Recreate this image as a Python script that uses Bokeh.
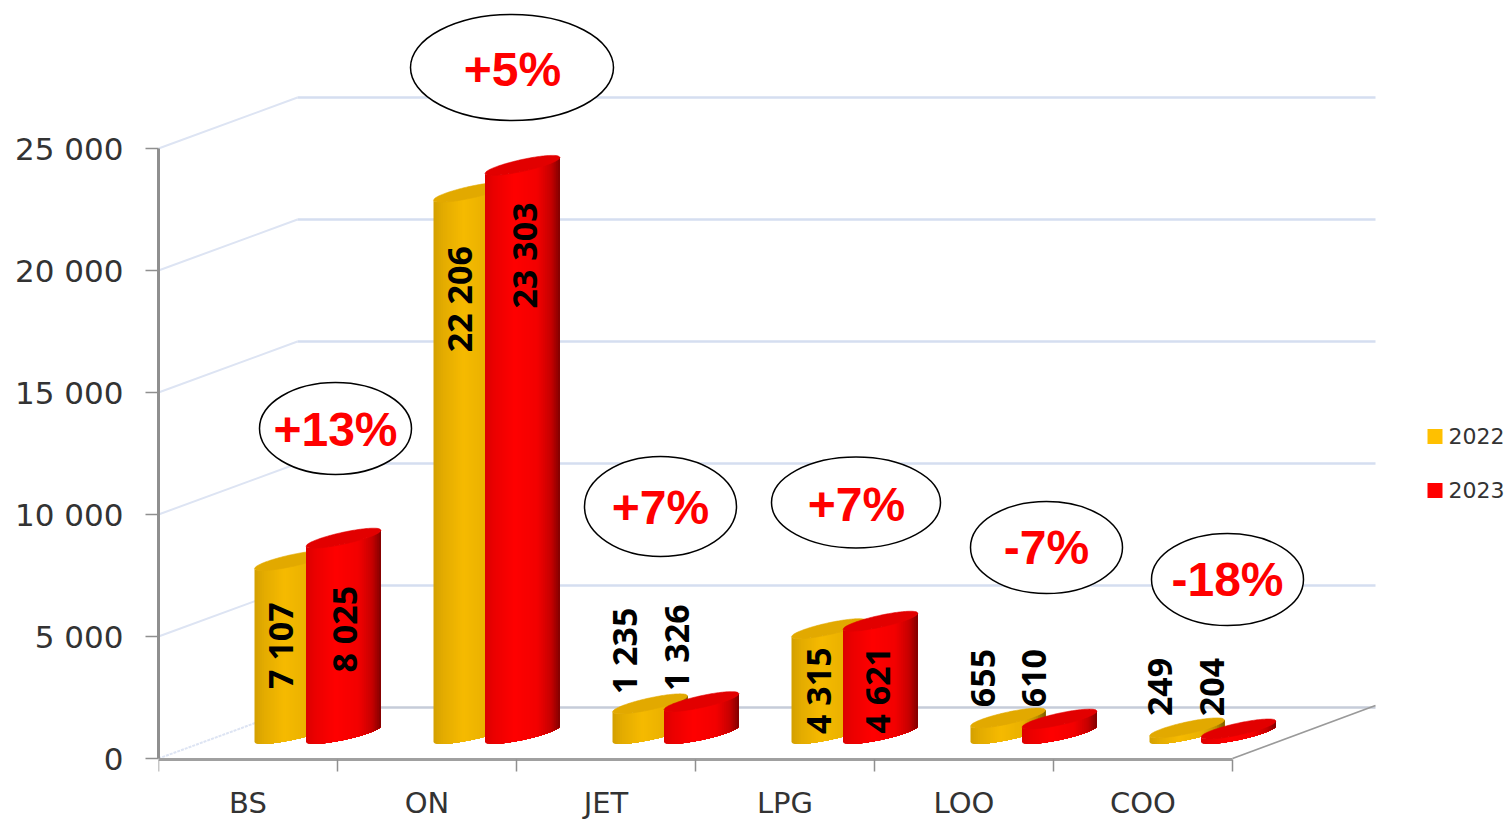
import numpy as np
from bokeh.plotting import figure
from bokeh.models import Range1d, LinearAxis, FixedTicker
from bokeh.core.properties import value
from bokeh.embed import file_html
from bokeh.resources import INLINE

# ---- data
categories = ["BS", "ON", "JET", "LPG", "LOO", "COO"]
series_2022 = [7107, 22206, 1235, 4315, 655, 249]
series_2023 = [8025, 23303, 1326, 4621, 610, 204]
labels_2022 = ["7 107", "22 206", "1 235", "4 315", "655", "249"]
labels_2023 = ["8 025", "23 303", "1 326", "4 621", "610", "204"]
changes = ["+13%", "+5%", "+7%", "+7%", "-7%", "-18%"]
y_ticks = [0, 5000, 10000, 15000, 20000, 25000]
y_tick_labels = ["0", "5 000", "10 000", "15 000", "20 000", "25 000"]
legend_names = ["2022", "2023"]

# ---- layout (pixels of the reference image)
PX_CAT = 179.0      # px per category
PX_VAL = 0.0244     # px per unit
X0, Y0 = 158, 758   # axis origin
dx = lambda px: px / PX_CAT
dy = lambda px: px / PX_VAL
ax = lambda px: (px - X0) / PX_CAT
ay = lambda px: (Y0 - px) / PX_VAL

W, H = 1508, 821
p = figure(width=W, height=H, output_backend="svg", toolbar_location=None,
           x_range=Range1d(ax(158), ax(W)), y_range=Range1d(ay(H), ay(0)),
           x_axis_location=None, y_axis_location=None,
           min_border_left=158, min_border_right=0, min_border_top=0, min_border_bottom=0,
           background_fill_color="white", border_fill_color="white", outline_line_color=None)
p.grid.visible = False

# ---- axes
yaxis = LinearAxis(ticker=FixedTicker(ticks=y_ticks), bounds=(0, 25000),
                   major_label_overrides={t: l for t, l in zip(y_ticks, y_tick_labels)},
                   axis_line_color="#8f8f8f", axis_line_width=3,
                   major_tick_line_color="#8f8f8f", major_tick_line_width=1.5,
                   major_tick_out=13, major_tick_in=0, minor_tick_out=0, minor_tick_in=0,
                   major_label_standoff=22, major_label_text_font="DejaVu Sans",
                   major_label_text_font_size="31px", major_label_text_color="#333333")
p.add_layout(yaxis, "left")
cat_centres = [i + 0.5 for i in range(len(categories))]
xaxis = LinearAxis(ticker=FixedTicker(ticks=cat_centres, minor_ticks=list(range(len(categories) + 1))),
                   bounds=(0, len(categories)), fixed_location=ay(759),
                   major_label_overrides={c: l for c, l in zip(cat_centres, categories)},
                   axis_line_color="#a0a0a0", axis_line_width=3,
                   major_tick_out=0, major_tick_in=0,
                   minor_tick_line_color="#8f8f8f", minor_tick_line_width=1.5,
                   minor_tick_out=12, minor_tick_in=0,
                   major_label_standoff=14, major_label_text_font="DejaVu Sans",
                   major_label_text_font_size="29px", major_label_text_color="#333333")
p.add_layout(xaxis, "below")

# ---- walls and floor
DEPTH_X, DEPTH_Y = 139, 51
RIGHT = 1375 - 158
for t in y_ticks[1:]:
    p.line([0, dx(DEPTH_X)], [t, t + dy(DEPTH_Y)], line_color="#dde4f3", line_width=2)
    p.line([dx(DEPTH_X), dx(RIGHT)], [t + dy(DEPTH_Y)] * 2, line_color="#d5def0", line_width=2.5)
p.line([0, dx(DEPTH_X)], [0, dy(DEPTH_Y)], line_color="#dde4f3", line_width=2, line_dash="3 1")
p.line([dx(DEPTH_X), dx(RIGHT)], [dy(DEPTH_Y)] * 2, line_color="#c6ccd9", line_width=2.5)
p.line([len(categories), dx(RIGHT)], [0, dy(DEPTH_Y) + dy(2)], line_color="#9a9a9a", line_width=1.8)

# ---- cylinders
BAR_W, SHEAR, BULGE = 75, 8, 6
BASE = 24.5
STOPS_T = [0, 0.12, 0.4, 0.7, 0.88, 1]
STOPS_B = [0.86, 0.92, 1, 0.95, 0.78, 0.5]
N = 40


def edge(u, centre_px, sign):
    """Screen-px height above the axis of an ellipse edge at u in [-1, 1]."""
    return centre_px + SHEAR * u + sign * BULGE * np.sqrt(np.clip(1 - u * u, 0, 1))


def cylinder(left_px, val, rgb, top_hex):
    us = np.linspace(-1, 1, N + 1)
    top_c = val * PX_VAL + BASE
    xpx = lambda u: left_px + (u + 1) / 2 * BAR_W
    xs, ys, cols = [], [], []
    for k in range(N):
        # every strip runs on to the right edge: later strips paint over it, so no seams
        sub = np.linspace(us[k], 1, max(4, (N - k) * 2))
        low = edge(sub, BASE, -1)
        up = edge(sub, top_c, -1)
        xs.append(np.concatenate([ax(xpx(sub)), ax(xpx(sub[::-1]))]).tolist())
        ys.append(np.concatenate([dy(low), dy(up[::-1])]).tolist())
        br = np.interp((us[k] + us[k + 1] + 2) / 4, STOPS_T, STOPS_B)
        c = tuple(int(round(v * br)) for v in rgb)
        cols.append("#%02x%02x%02x" % c)
    p.patches(xs, ys, fill_color=cols, line_color=None)
    u = np.linspace(-1, 1, 60)
    tx = np.concatenate([ax(xpx(u)), ax(xpx(u[::-1]))])
    ty = np.concatenate([dy(edge(u, top_c, 1)), dy(edge(u[::-1], top_c, -1))])
    p.patch(tx, ty, fill_color=top_hex, line_color=top_hex, line_width=0.6)


BAR_START, BAR_GAP = 254, 51.5
for i in range(len(categories)):
    left = BAR_START + i * PX_CAT
    cylinder(left, series_2022[i], (246, 186, 0), "#e2a900")
    cylinder(left + BAR_GAP, series_2023[i], (255, 0, 0), "#e20000")

# ---- value labels (offset from top of bar, offset from bar left)
gap_2022 = [-85, -107, 53, -62, 40, 41]
gap_2023 = [-91, -90, 54, -69, 41, 42]
off_2022 = [25, 25, 11, 26, 12, 10]
off_2023 = [38, 39, 12, 34, 12, 11]
for series, labels, gaps, offs, shift in [(series_2022, labels_2022, gap_2022, off_2022, 0),
                                          (series_2023, labels_2023, gap_2023, off_2023, BAR_GAP)]:
    lx = [ax(BAR_START + shift + i * PX_CAT + offs[i]) for i in range(6)]
    ly = [series[i] + dy(BASE) + dy(gaps[i]) for i in range(6)]
    p.text(lx, ly, text=labels, angle=np.pi / 2, text_align="center", text_baseline="middle",
           text_font=value("Open Sans"), text_font_style="bold", text_font_size="34px", text_color="#000000")

# ---- change callouts
bub_x = [335, 511.5, 660, 855.5, 1046, 1227]
bub_y = [428, 67, 506, 502, 547, 579]
bub_w = [152, 203, 152, 169, 152, 152]
bub_h = [92, 106, 100, 91, 92, 92]
txt_x = [335, 512, 660, 856, 1046, 1227]
txt_y = [429, 69, 507, 504, 547, 579]
p.ellipse([ax(v) for v in bub_x], [ay(v) for v in bub_y],
          width=[dx(v) for v in bub_w], height=[dy(v) for v in bub_h],
          fill_color="white", line_color="#000000", line_width=1.5)
p.text([ax(v) for v in txt_x], [ay(v) for v in txt_y], text=changes,
       text_align="center", text_baseline="middle", text_font=value("Liberation Sans"),
       text_font_style="bold", text_font_size="48px", text_color="#ff0000")

# ---- legend
leg_y = [436, 490]
leg_cols = ["#ffc000", "#ff0000"]
p.rect([ax(1434.5)] * 2, [ay(v) for v in leg_y], width=dx(15), height=dy(15),
       fill_color=leg_cols, line_color=None)
p.text([ax(1448)] * 2, [ay(v - 1) for v in leg_y], text=legend_names,
       text_align="left", text_baseline="middle", text_font=value("DejaVu Sans"),
       text_font_size="22px", text_color="#333333")

open("out.html", "w").write(file_html(p, INLINE))
